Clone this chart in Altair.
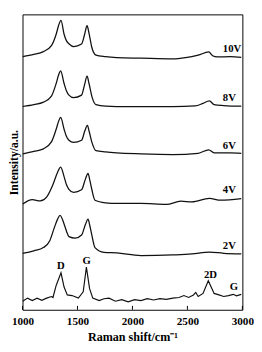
import altair as alt
import pandas as pd

# Raman shift (cm-1) and intensity (a.u., stacked)
shift_10V = [1002, 1103, 1190, 1263, 1306, 1330, 1350, 1378, 1400, 1422, 1465, 1537, 1565, 1587, 1605, 1630, 1668, 1755, 1857, 2077, 2367, 2483, 2598, 2694, 2729, 2772, 2889, 2990]
int_10V = [267.5, 269.7, 272.7, 279, 291, 301, 305.7, 291, 284, 281, 278, 280.7, 291, 300, 292, 277.3, 269, 267.3, 266.3, 265.7, 265, 266.3, 269, 272.3, 268.3, 267, 267.3, 266.7]

shift_8V = [1002, 1103, 1190, 1263, 1306, 1328, 1347, 1378, 1400, 1422, 1465, 1537, 1565, 1587, 1605, 1630, 1668, 1755, 1857, 2077, 2367, 2570, 2642, 2700, 2743, 2830, 2990]
int_8V = [214.7, 216.7, 219.3, 225.7, 239, 248, 252.3, 239, 231, 226.7, 224, 226.7, 238, 246.7, 239, 225.7, 216.7, 215, 214.7, 214.7, 214.7, 215.3, 218, 220.7, 216.7, 215.7, 215]

shift_6V = [1002, 1103, 1190, 1263, 1306, 1328, 1347, 1378, 1400, 1422, 1465, 1537, 1567, 1590, 1607, 1630, 1668, 1755, 1857, 2077, 2367, 2598, 2694, 2743, 2889, 2990]
int_6V = [164.7, 167.3, 170, 177.3, 190.7, 199, 203.3, 190.7, 183, 179, 176.7, 179, 189, 194.7, 188, 177.3, 168, 166.7, 165.7, 164.7, 164, 165.3, 169, 165.7, 165.7, 165.3]

shift_4V = [1002, 1089, 1161, 1219, 1277, 1318, 1347, 1378, 1400, 1422, 1465, 1537, 1572, 1596, 1612, 1630, 1659, 1755, 1857, 2077, 2309, 2440, 2541, 2700, 2802, 2990]
int_4V = [111.7, 116.3, 115, 119, 132.3, 145, 150.7, 140.7, 132, 127.3, 124, 126.7, 138, 144, 137, 127.3, 115.7, 113, 112.3, 112.3, 111.3, 114.7, 114, 117.7, 115.7, 117.3]

shift_2V = [1002, 1103, 1190, 1248, 1291, 1320, 1341, 1378, 1400, 1422, 1480, 1537, 1572, 1596, 1612, 1630, 1659, 1741, 1857, 2077, 2367, 2541, 2700, 2830, 2990]
int_2V = [59.7, 62.3, 65.7, 73, 87.3, 96, 99.7, 90.7, 83, 77.3, 75.7, 79, 90, 95.7, 89, 79, 65.7, 60.7, 60, 57.3, 58, 59, 61, 59.7, 59]

shift_raw = [1002, 1045, 1089, 1132, 1176, 1219, 1263, 1277, 1306, 1350, 1378, 1407, 1450, 1508, 1552, 1581, 1610, 1639, 1697, 1741, 1787, 1845, 1903, 1961, 2019, 2077, 2135, 2193, 2250, 2309, 2367, 2424, 2468, 2511, 2555, 2576, 2598, 2642, 2690, 2743, 2787, 2830, 2874, 2917, 2946, 2990]
int_raw = [9, 12.3, 9.7, 12.3, 10, 12.3, 14, 13, 25.7, 39, 24, 15.7, 15, 12.3, 19, 45, 22.3, 12.3, 9.7, 11.7, 12.3, 9, 10.7, 8.3, 10.7, 9.7, 11.7, 10.3, 11.7, 11, 12.3, 13, 15, 13, 15.7, 18.3, 14, 17.3, 30.7, 17.3, 15.7, 14, 15, 16.3, 14.7, 16.3]

series_names = ["10V", "8V", "6V", "4V", "2V"]
label_shift = [2822, 2822, 2822, 2822, 2822]
label_int = [275.5, 223.5, 173, 126, 67.5]

peak_names = ["D", "G", "2D", "G"]
peak_shift = [1348, 1583, 2709, 2922]
peak_int = [46, 51, 36.5, 24]

tick_values = [1000, 1500, 2000, 2500, 3000]

rows = []
for name, xs, ys in [("10V", shift_10V, int_10V), ("8V", shift_8V, int_8V),
                     ("6V", shift_6V, int_6V), ("4V", shift_4V, int_4V),
                     ("2V", shift_2V, int_2V)]:
    for a, b in zip(xs, ys):
        rows.append({"series": name, "shift": a, "intensity": b})
smooth_df = pd.DataFrame(rows)
raw_df = pd.DataFrame({"shift": shift_raw, "intensity": int_raw})
lab_df = pd.DataFrame({"name": series_names, "shift": label_shift, "intensity": label_int})
peak_df = pd.DataFrame({"name": peak_names, "shift": peak_shift, "intensity": peak_int})
tick_df = pd.DataFrame({"shift": tick_values})

FONT = "Liberation Serif"

xscale = alt.Scale(domain=[1000, 3000], nice=False, zero=False)
yscale = alt.Scale(domain=[0, 312], nice=False, zero=False)

xenc = alt.X("shift:Q", scale=xscale,
             axis=alt.Axis(values=tick_values, format="d", tickSize=0, domain=False, grid=False,
                           labelFont=FONT, labelFontWeight="bold", labelFontSize=11.5,
                           labelColor="black", labelPadding=6, labelFlush=False,
                           title="Raman shift/cm⁻¹", titleFont=FONT, titleFontWeight="bold",
                           titleFontSize=12.5, titleColor="black", titlePadding=4))
yenc = alt.Y("intensity:Q", scale=yscale,
             axis=alt.Axis(labels=False, ticks=False, domain=False, grid=False,
                           title="Intensity/a.u.", titleFont=FONT, titleFontWeight="bold",
                           titleFontSize=12, titleColor="black", titlePadding=2.5))

smooth = alt.Chart(smooth_df).mark_line(interpolate="monotone", color="#111", strokeWidth=1.3).encode(
    x=xenc, y=yenc, detail="series:N")
raw = alt.Chart(raw_df).mark_line(color="#111", strokeWidth=1.2).encode(
    x=alt.X("shift:Q", scale=xscale), y=alt.Y("intensity:Q", scale=yscale))
ticks = alt.Chart(tick_df).mark_rule(color="black", strokeWidth=1).encode(
    x=alt.X("shift:Q", scale=xscale), y=alt.value(305), y2=alt.value(301))
labels = alt.Chart(lab_df).mark_text(align="left", baseline="middle", font=FONT, fontWeight="bold",
                                     fontSize=11, color="black").encode(
    x=alt.X("shift:Q", scale=xscale), y=alt.Y("intensity:Q", scale=yscale), text="name:N")
peaks = alt.Chart(peak_df).mark_text(align="center", baseline="middle", font=FONT, fontWeight="bold",
                                     fontSize=11, color="black").encode(
    x=alt.X("shift:Q", scale=xscale), y=alt.Y("intensity:Q", scale=yscale), text="name:N")

chart = alt.layer(smooth, raw, ticks, labels, peaks).properties(
    width=227, height=305,
    padding={"left": 15, "top": 1, "right": 12, "bottom": 38},
    autosize=alt.AutoSizeParams(type="none"),
).configure_view(stroke="black", strokeWidth=1)

chart.save("out.html", embed_options={"renderer": "svg", "actions": False})
